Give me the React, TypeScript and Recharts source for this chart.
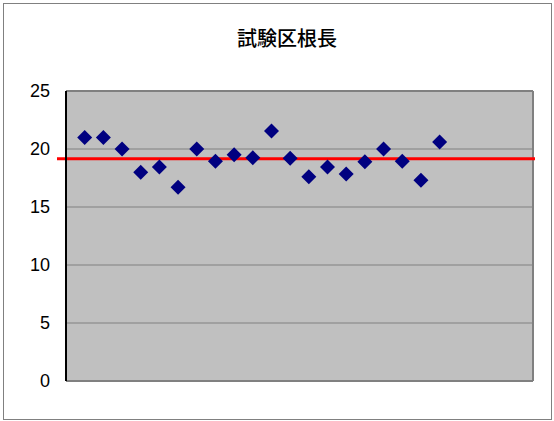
import React from "react";
import { ScatterChart, Scatter, XAxis, YAxis, CartesianGrid, ReferenceLine } from "recharts";

const sampleIndex = [1, 2, 3, 4, 5, 6, 7, 8, 9, 10, 11, 12, 13, 14, 15, 16, 17, 18, 19, 20];
const rootLength = [21.0, 21.0, 20.0, 18.0, 18.45, 16.7, 20.0, 18.95, 19.5, 19.25, 21.55, 19.2, 17.6, 18.45, 17.85, 18.9, 20.0, 18.95, 17.3, 20.6];
const averageLine = 19.15;
const yTicks = [0, 5, 10, 15, 20, 25];
const title = "試験区根長";

const data = sampleIndex.map((x, i) => ({ x, y: rootLength[i] }));

const RedLine = (props: any) => (
  <line x1={props.x1 - 9} y1={props.y1} x2={props.x2 + 2} y2={props.y2} stroke="#FF0000" strokeWidth={3} />
);

const Diamond = (props: any) => {
  const { cx, cy } = props;
  const r = 7.5;
  return <polygon points={`${cx},${cy - r} ${cx + r},${cy} ${cx},${cy + r} ${cx - r},${cy}`} fill="#000080" />;
};

export default function App() {
  return (
    <div style={{ position: "absolute", left: 0, top: 0, width: 554, height: 421, background: "#fff" }}>
      <div style={{ position: "absolute", left: 3, top: 3, width: 547, height: 415, border: "1px solid #808080" }} />
      <div style={{ position: "absolute", left: 0, top: 23, width: 574, textAlign: "center", fontFamily: "'Noto Sans CJK JP', sans-serif", fontSize: 20, fontWeight: 500, color: "#000" }}>{title}</div>
      <div style={{ position: "absolute", left: 0, top: 0 }}>
        <ScatterChart width={554} height={421} margin={{ top: 91, right: 21, bottom: 40, left: 0 }}>
          <CartesianGrid fill="#C0C0C0" stroke="#808080" vertical={false} strokeWidth={1} />
          <XAxis type="number" dataKey="x" domain={[0, 25]} hide />
          <YAxis
            type="number"
            dataKey="y"
            domain={[0, 25]}
            ticks={yTicks}
            width={66}
            tickLine={false}
            tickSize={6}
            tickMargin={10}
            axisLine={{ stroke: "#000", strokeWidth: 2 }}
            tick={{ fill: "#000", fontSize: 18, fontFamily: "'Liberation Sans', Arial, sans-serif" }}
          />
          <ReferenceLine y={25} stroke="#808080" strokeWidth={2} />
          <ReferenceLine x={25} stroke="#808080" strokeWidth={2} />
          <ReferenceLine y={0} stroke="#808080" strokeWidth={2} />
          <Scatter data={data} fill="#000080" shape={Diamond} isAnimationActive={false} />
          <ReferenceLine y={averageLine} shape={RedLine} />
        </ScatterChart>
      </div>
    </div>
  );
}
